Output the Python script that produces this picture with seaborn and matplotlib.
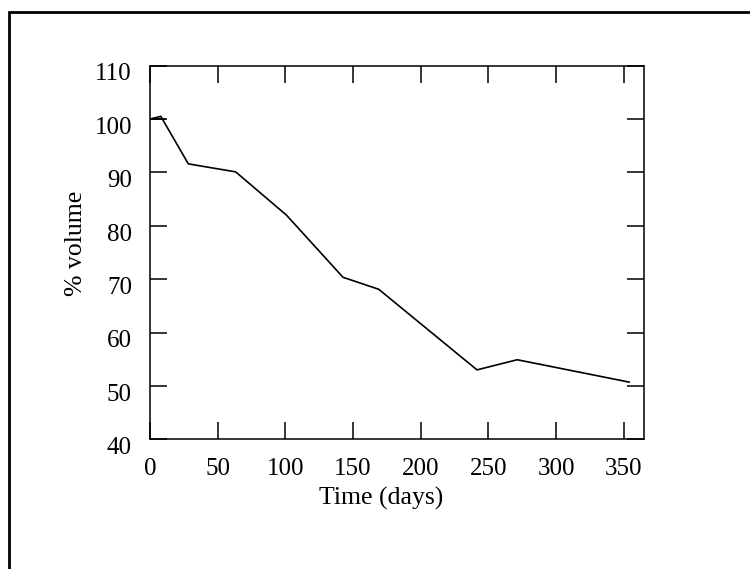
import matplotlib
matplotlib.use("Agg")
import matplotlib.pyplot as plt
import matplotlib.transforms as mtransforms
from matplotlib.lines import Line2D
import seaborn as sns
import pandas as pd

# Tumour volume relative to day 0, traced in recording order
days = [11, 0, 8, 28.3, 63.3, 100.8, 142.6, 169.0, 241.6, 271.3, 354.2]
volume = [100.0, 100.0, 100.5, 91.6, 90.1, 82.0, 70.35, 68.1, 53.0, 54.9, 50.7]

x_ticks = [0, 50, 100, 150, 200, 250, 300, 350]
y_ticks = [40, 50, 60, 70, 80, 90, 100, 110]

sns.set_style("ticks")
plt.rcParams["font.family"] = ["Liberation Serif", "DejaVu Serif"]

df = pd.DataFrame({"Time (days)": days, "% volume": volume})

fig = plt.figure(figsize=(7.5, 5.69), dpi=100)
ax = fig.add_axes([0.2, 0.228, 0.6587, 0.6566])

sns.lineplot(data=df, x="Time (days)", y="% volume", sort=False,
             color="black", linewidth=1.2, ax=ax)

ax.set_xlim(0, 365)
ax.set_ylim(40, 110)
ax.set_xticks(x_ticks)
ax.set_yticks(y_ticks)

for side in ["top", "right", "bottom", "left"]:
    ax.spines[side].set_visible(True)
    ax.spines[side].set_linewidth(1.1)
    ax.spines[side].set_color("black")

ax.tick_params(axis="both", which="major", direction="in", length=12.5,
               width=1.1, color="black", labelsize=18, labelcolor="black",
               top=True, right=True)
ax.tick_params(axis="x", pad=13.5)
ax.tick_params(axis="y", pad=13)

# numbers on the value axis sit a little below their ticks
shift = mtransforms.ScaledTranslation(0, -4.5 / 72, fig.dpi_scale_trans)
for lab in ax.get_yticklabels():
    lab.set_transform(lab.get_transform() + shift)

ax.set_xlabel("Time (days)", fontsize=18.5, color="black")
ax.set_ylabel("% volume", fontsize=18.5, color="black")
ax.xaxis.set_label_coords(0.467, -0.1277)
ax.yaxis.set_label_coords(-0.127, 0.525)

# frame along the top and left edges of the page
fig.add_artist(Line2D([9 / 750, 9 / 750, 1.0], [0.0, 1 - 11.5 / 569, 1 - 11.5 / 569],
                      transform=fig.transFigure, color="black", linewidth=2.0,
                      solid_joinstyle="miter"))

fig.savefig("out.png", dpi=100, facecolor="white")
